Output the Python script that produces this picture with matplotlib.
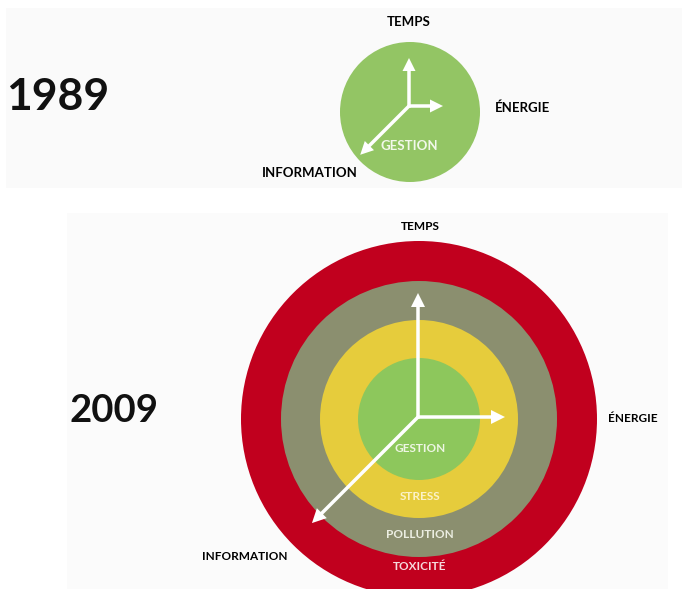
import matplotlib
matplotlib.use("Agg")
import matplotlib.pyplot as plt
from matplotlib.patches import Circle, Rectangle

plt.rcParams['font.family'] = ['Lato', 'DejaVu Sans']

# data
years = ["1989", "2009"]
axis_labels = ["TEMPS", "ÉNERGIE", "INFORMATION"]
rings_1989 = ["GESTION"]
rings_2009 = ["TOXICITÉ", "POLLUTION", "STRESS", "GESTION"]   # outer to inner
axis_lengths_1989 = [48, 34, 69]     # temps, energie, information
axis_lengths_2009 = [124, 87, 150]

# styles
ring_colors = {"TOXICITÉ": "#c1001e", "POLLUTION": "#8b8f6f",
               "STRESS": "#e6cc3c", "GESTION": "#8dc75c"}
ring_text = {"TOXICITÉ": "#f6d9dc", "POLLUTION": "#eceee2",
             "STRESS": "#fbf2c8", "GESTION": "#eef6e4"}
ring_radius = {"TOXICITÉ": 178, "POLLUTION": 138, "STRESS": 99, "GESTION": 61}
label_y = {"GESTION": 448, "STRESS": 496, "POLLUTION": 535, "TOXICITÉ": 566}

fig = plt.figure(figsize=(6.85, 5.89), dpi=100)
ax = fig.add_axes([0, 0, 1, 1])
ax.set_xlim(0, 685)
ax.set_ylim(589, 0)
ax.set_aspect('equal')
ax.axis('off')

# panel backgrounds
ax.add_patch(Rectangle((6, 8), 676, 180, color="#fafafa", lw=0, zorder=0))
ax.add_patch(Rectangle((67, 213), 601, 380, color="#fbfbfb", lw=0, zorder=0))


def draw_axes(ox, oy, lengths, shaft, head):
    up, right, diag = lengths
    kw = dict(width=shaft, head_width=head, head_length=head,
              length_includes_head=True, fc="white", ec="white", lw=0, zorder=5)
    ax.arrow(ox, oy + shaft / 2, 0, -up - shaft / 2, **kw)
    ax.arrow(ox, oy, right, 0, **kw)
    d = diag / 2 ** 0.5
    ax.arrow(ox, oy, -d, d, **kw)


# 1989
ax.text(58, 97, years[0], fontsize=32, fontweight='bold', ha='center', va='center',
        color="#111111")
ax.add_patch(Circle((410, 112), 70, color="#93c564", lw=0, zorder=2))
draw_axes(409, 106, axis_lengths_1989, 3.5, 13)
ax.text(409, 146, rings_1989[0], fontsize=9.5, fontweight='bold', color="#f2f8ea",
        ha='center', va='center', zorder=6)
ax.text(409, 22, axis_labels[0], fontsize=9.5, fontweight='bold', ha='center', va='center')
ax.text(523, 108, axis_labels[1], fontsize=9.5, fontweight='bold', ha='center', va='center')
ax.text(310, 173, axis_labels[2], fontsize=9.5, fontweight='bold', ha='center', va='center')

# 2009
ax.text(114, 411, years[1], fontsize=27.5, fontweight='bold', ha='center', va='center',
        color="#111111")
for name in rings_2009:
    ax.add_patch(Circle((419, 419), ring_radius[name], color=ring_colors[name],
                        lw=0, zorder=2))

draw_axes(418, 417, axis_lengths_2009, 3.5, 14)

for name in rings_2009:
    ax.text(420, label_y[name], name, fontsize=8.5, fontweight='bold',
            color=ring_text[name], ha='center', va='center', zorder=6)

ax.text(420, 226, axis_labels[0], fontsize=8.5, fontweight='bold', ha='center', va='center')
ax.text(633, 419, axis_labels[1], fontsize=8.5, fontweight='bold', ha='center', va='center')
ax.text(245, 556, axis_labels[2], fontsize=8.5, fontweight='bold', ha='center', va='center')

fig.savefig("out.png", dpi=100, facecolor="white")
